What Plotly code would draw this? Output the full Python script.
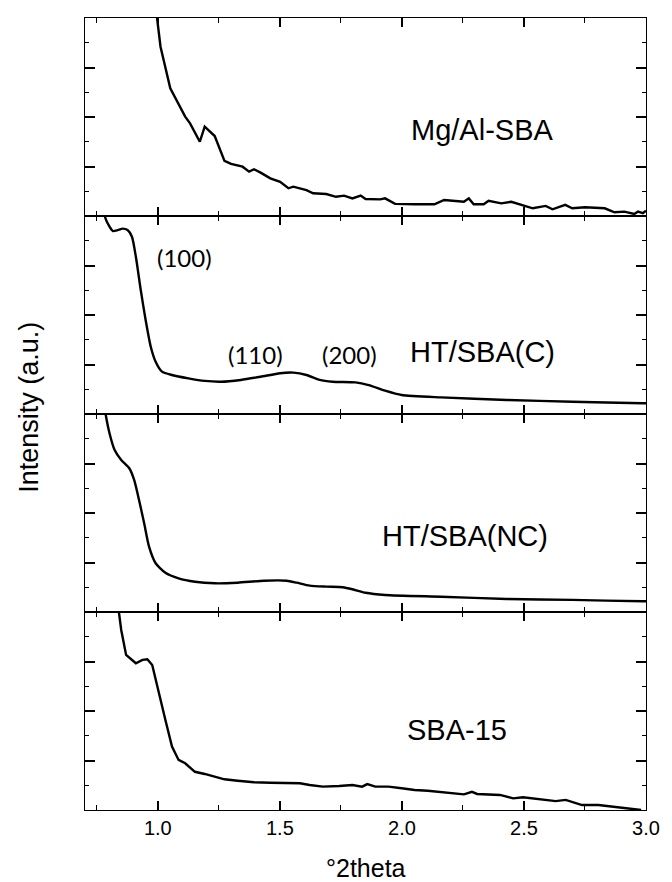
import plotly.graph_objects as go
from plotly.subplots import make_subplots

# Panel 1: Mg/Al-SBA
mg_x = [0.97, 0.997, 1.011, 1.051, 1.112, 1.132, 1.172, 1.192, 1.233, 1.273, 1.300, 1.347, 1.374, 1.394,
        1.421, 1.461, 1.501, 1.535, 1.555, 1.609, 1.636, 1.690, 1.730, 1.763, 1.797, 1.831, 1.851, 1.911,
        1.931, 1.972, 2.052, 2.133, 2.173, 2.254, 2.274, 2.294, 2.335, 2.355, 2.407, 2.448, 2.503, 2.536,
        2.589, 2.617, 2.669, 2.698, 2.750, 2.805, 2.831, 2.871, 2.911, 2.952, 2.967, 2.987, 3.0]
mg_y = [140, 99.8, 85.5, 64.5, 50.2, 46.8, 37.5, 45.1, 40.4, 27.8, 26.3, 24.9, 22.4, 23.6,
        21.9, 19.0, 17.3, 14.0, 14.8, 13.1, 11.5, 11.1, 9.7, 10.3, 8.9, 10.3, 8.6, 8.4,
        8.9, 6.1, 5.9, 5.9, 8.1, 7.2, 8.9, 5.9, 5.9, 7.7, 6.4, 7.2, 5.1, 3.9,
        5.1, 3.4, 5.6, 3.9, 4.4, 3.9, 3.9, 1.9, 2.2, 1.0, 2.2, 1.4, 2.7]

# Panel 2: HT/SBA(C)
htc_x = [0.77, 0.782, 0.802, 0.816, 0.836, 0.856, 0.876, 0.894, 0.910, 0.930, 0.950, 0.971, 0.991, 1.017,
         1.058, 1.125, 1.192, 1.259, 1.340, 1.421, 1.501, 1.555, 1.609, 1.663, 1.716, 1.810, 1.864,
         1.931, 1.999, 2.160, 2.429, 2.698, 2.987, 3.0]
htc_y = [110, 100, 94.6, 92.4, 92.9, 93.6, 92.9, 89.5, 79.4, 62.6, 47.5, 34.0, 26.4, 21.4,
         19.7, 18.0, 16.7, 16.3, 17.2, 18.8, 20.6, 20.9, 19.7, 17.2, 16.3, 16.0, 14.6,
         11.8, 9.6, 8.4, 7.1, 6.2, 5.4, 5.4]

# Panel 3: HT/SBA(NC)
htnc_x = [0.775, 0.786, 0.802, 0.823, 0.850, 0.883, 0.903, 0.923, 0.944, 0.964, 0.991, 1.031, 1.085,
          1.152, 1.233, 1.327, 1.434, 1.528, 1.569, 1.622, 1.690, 1.757, 1.797, 1.851, 1.931,
          2.160, 2.429, 2.698, 2.987, 3.0]
htnc_y = [110, 100, 90.3, 81.8, 76.8, 72.6, 66.7, 56.6, 44.8, 33.0, 24.6, 19.8, 17.0,
          15.3, 14.5, 14.8, 15.8, 15.8, 14.8, 13.3, 12.8, 12.5, 11.5, 9.7, 8.6,
          7.7, 6.6, 6.1, 5.4, 5.4]

# Panel 4: SBA-15
sba_x = [0.83, 0.840, 0.850, 0.870, 0.910, 0.937, 0.957, 0.977, 1.004, 1.031, 1.058, 1.085, 1.112, 1.152,
         1.192, 1.233, 1.273, 1.327, 1.394, 1.461, 1.515, 1.582, 1.622, 1.676, 1.743, 1.797,
         1.837, 1.858, 1.891, 1.945, 1.999, 2.052, 2.106, 2.173, 2.254, 2.287, 2.308, 2.402,
         2.456, 2.496, 2.563, 2.630, 2.671, 2.738, 2.805, 2.859, 2.892, 2.939, 2.980]
sba_y = [110, 99.6, 90.9, 78.3, 74.1, 75.8, 76.1, 73.2, 58.9, 45.5, 32.0, 25.3, 23.6, 19.3,
         18.2, 16.8, 15.5, 14.8, 14.0, 13.8, 13.5, 13.5, 12.6, 11.8, 12.1, 12.6,
         11.8, 13.1, 11.8, 11.8, 11.0, 10.1, 9.7, 8.9, 7.9, 9.2, 8.1, 7.6,
         5.9, 6.4, 5.4, 4.5, 5.1, 2.5, 2.5, 1.7, 1.4, 0.9, 0.0]

sample_names = ["Mg/Al-SBA", "HT/SBA(C)", "HT/SBA(NC)", "SBA-15"]
name_pos_x = [2.327, 2.331, 2.260, 2.226]
name_pos_y = [43.4, 31.3, 38.4, 40.4]

peak_labels = ["(100)", "(110)", "(200)"]
peak_x = [1.109, 1.399, 1.786]
peak_y = [78.8, 30.3, 30.3]

x_tickvals = [1.0, 1.5, 2.0, 2.5, 3.0]
x_ticktext = ["1.0", "1.5", "2.0", "2.5", "3.0"]

series = [(mg_x, mg_y, "linear"), (htc_x, htc_y, "spline"),
          (htnc_x, htnc_y, "spline"), (sba_x, sba_y, "linear")]

fig = make_subplots(rows=4, cols=1, shared_xaxes=True, vertical_spacing=0)

for i, (xs, ys, shp) in enumerate(series):
    line = dict(color="black", width=2.4, shape=shp)
    if shp == "spline":
        line["smoothing"] = 0.6
    fig.add_trace(go.Scatter(x=xs, y=ys, mode="lines", line=line, showlegend=False,
                             name=sample_names[i]), row=i + 1, col=1)
    fig.add_annotation(x=name_pos_x[i], y=name_pos_y[i], xref=f"x{i+1 if i else ''}",
                       yref=f"y{i+1 if i else ''}", text=sample_names[i], showarrow=False,
                       font=dict(family="Liberation Sans, Arial", size=29, color="black"),
                       xanchor="center", yanchor="middle")

for j, lab in enumerate(peak_labels):
    fig.add_annotation(x=peak_x[j], y=peak_y[j], xref="x2", yref="y2", text=lab, showarrow=False,
                       font=dict(family="Lato, Open Sans", size=24, color="black"),
                       xanchor="center", yanchor="middle")

fig.update_xaxes(range=[0.7016, 3.0], showline=True, mirror="ticks", linecolor="black", linewidth=1.3,
                 ticks="inside", ticklen=9, tickwidth=1.6, tickcolor="black",
                 tickvals=x_tickvals, ticktext=x_ticktext,
                 minor=dict(ticks="inside", ticklen=5, tickwidth=1.4, tickcolor="black",
                            tickvals=[0.75, 1.25, 1.75, 2.25, 2.75]),
                 showgrid=False, zeroline=False,
                 tickfont=dict(family="Liberation Sans, Arial", size=20, color="black"))

fig.update_yaxes(range=[0, 100], showline=True, mirror="ticks", linecolor="black", linewidth=1.3,
                 ticks="inside", ticklen=10, tickwidth=1.6, tickcolor="black",
                 tickvals=[25, 50, 75], showticklabels=False,
                 minor=dict(ticks="inside", ticklen=4, tickwidth=1.4, tickcolor="black",
                            tickvals=[12.5, 37.5, 62.5, 87.5]),
                 showgrid=False, zeroline=False)

fig.add_annotation(x=-0.1, y=0.509, xref="paper", yref="paper", text="Intensity (a.u.)",
                   showarrow=False, textangle=-90,
                   font=dict(family="Liberation Sans, Arial", size=27, color="black"),
                   xanchor="center", yanchor="middle")
fig.add_annotation(x=0.5, y=-0.0732, xref="paper", yref="paper", text="°2theta",
                   showarrow=False,
                   font=dict(family="Liberation Sans, Arial", size=25, color="black"),
                   xanchor="center", yanchor="middle")

fig.update_layout(width=672, height=882, autosize=False, margin=dict(l=85, r=17, t=18, b=72),
                  plot_bgcolor="white", paper_bgcolor="white")

fig.write_html("out.html", config={"displayModeBar": False, "responsive": False},
               post_script="document.body.style.margin='0px';document.body.style.overflow='hidden';")
